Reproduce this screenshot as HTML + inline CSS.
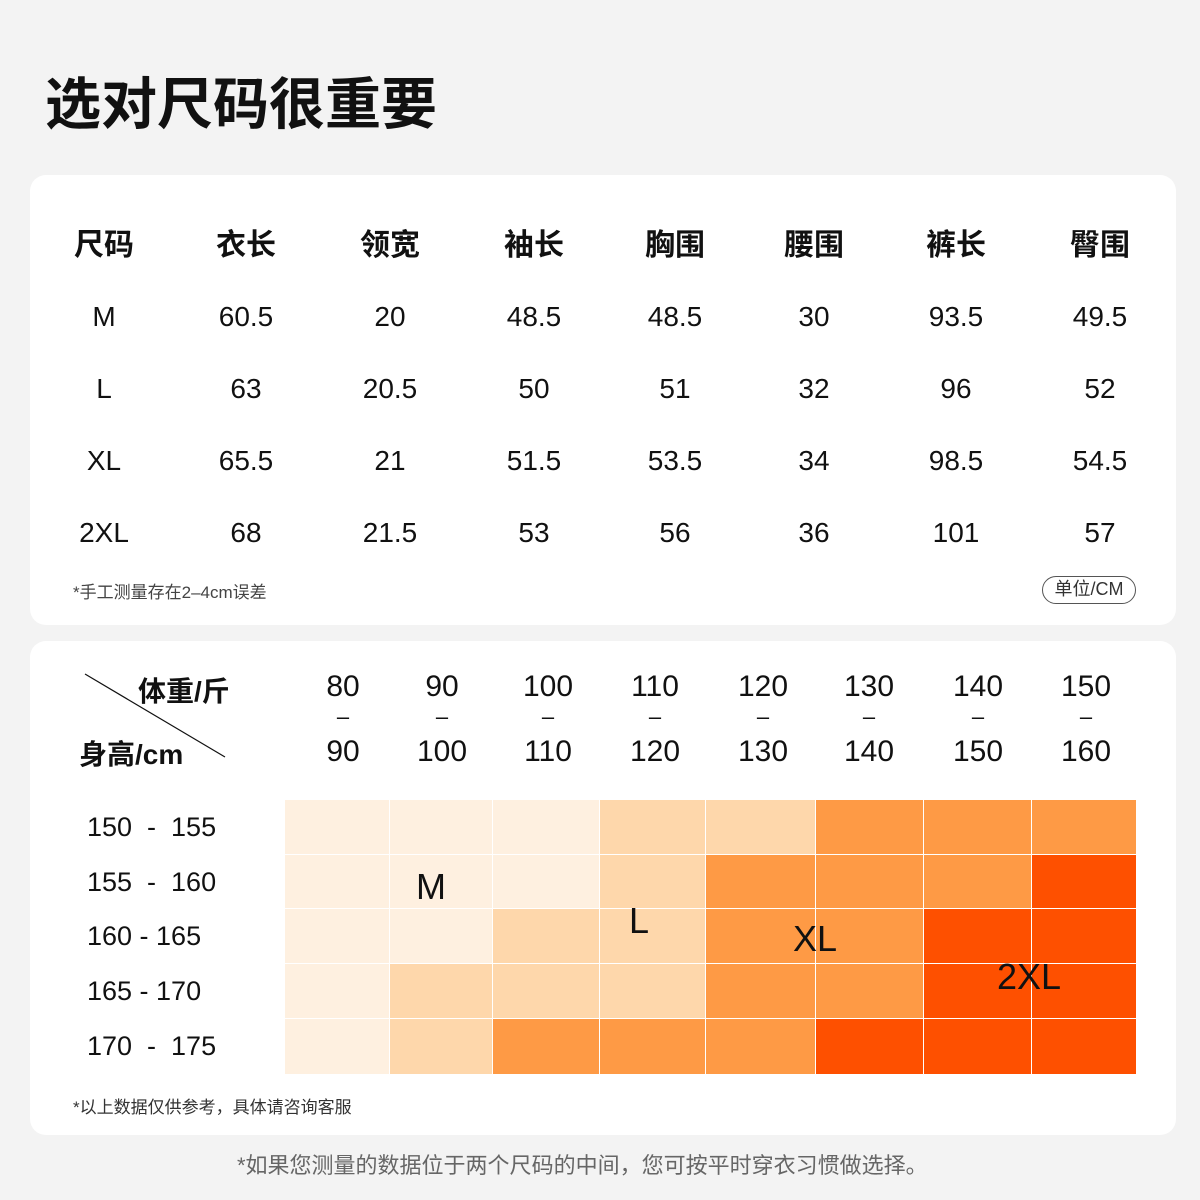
<!DOCTYPE html><html><head><meta charset="utf-8"><style>
*{margin:0;padding:0;box-sizing:border-box}
body{width:1200px;height:1200px;background:#f3f3f3;position:relative;font-family:"Liberation Sans","Noto Sans CJK SC",sans-serif;color:#111;overflow:hidden}
.a{position:absolute;white-space:nowrap}
.card{position:absolute;left:30px;width:1146px;background:#fff;border-radius:16px}
.c{transform:translateX(-50%);font-size:28px}
.h{font-weight:bold;font-size:30px}
.cell{position:absolute;border-right:1px solid #fff;border-bottom:1px solid #fff}
</style></head><body>
<div class="a" style="left:45px;top:60px;font-size:56px;font-weight:bold">选对尺码很重要</div>
<div class="card" style="top:175px;height:450px"></div>
<div class="card" style="top:641px;height:494px"></div>
<div id="t1"></div>
<div class="a" style="left:73px;top:578px;font-size:17px;color:#444">*手工测量存在2–4cm误差</div>
<div class="a" style="left:1042px;top:576px;width:94px;height:28px;border:1.5px solid #555;border-radius:14px;font-size:18px;color:#333;text-align:center;line-height:25px">单位/CM</div>
<svg class="a" style="left:0;top:0" width="1200" height="1200"><line x1="85" y1="674" x2="225" y2="757" stroke="#111" stroke-width="1.2"/></svg>
<div class="a" style="left:138px;top:670px;font-size:28px;font-weight:bold">体重/斤</div>
<div class="a" style="left:79px;top:733px;font-size:28px;font-weight:bold">身高/cm</div>
<div id="g"></div>
<div class="a" style="left:73px;top:1093px;font-size:17px;color:#333">*以上数据仅供参考，具体请咨询客服</div>
<div class="a" style="left:237px;top:1148px;font-size:22px;color:#666">*如果您测量的数据位于两个尺码的中间，您可按平时穿衣习惯做选择。</div>
<script>
var xs=[104,246,390,534,675,814,956,1100];
var rows=[["尺码","衣长","领宽","袖长","胸围","腰围","裤长","臀围"],["M","60.5","20","48.5","48.5","30","93.5","49.5"],["L","63","20.5","50","51","32","96","52"],["XL","65.5","21","51.5","53.5","34","98.5","54.5"],["2XL","68","21.5","53","56","36","101","57"]];
var ys=[220,301,373,445,517],h='';
rows.forEach(function(r,i){r.forEach(function(t,j){h+='<div class="a c'+(i==0?' h':'')+'" style="left:'+xs[j]+'px;top:'+ys[i]+'px">'+t+'</div>'})});
var wx=[343,442,548,655,763,869,978,1086],w1=["80","90","100","110","120","130","140","150"],w2=["90","100","110","120","130","140","150","160"];
wx.forEach(function(x,j){h+='<div class="a c" style="font-size:30px;left:'+x+'px;top:670px">'+w1[j]+'</div><div class="a c" style="font-size:22px;left:'+x+'px;top:704px">–</div><div class="a c" style="font-size:30px;left:'+x+'px;top:735px">'+w2[j]+'</div>'});
document.getElementById('t1').innerHTML=h;
var bx=[285,390,493,600,706,816,924,1032,1137],by=[800,855,909,964,1019,1075];
var C=["#fef0e0","#fed7ab","#fe9a45","#fe5000"];
var m=[[0,0,0,1,1,2,2,2],[0,0,0,1,2,2,2,3],[0,0,1,1,2,2,3,3],[0,1,1,1,2,2,3,3],[0,1,2,2,2,3,3,3]];
var lab=["150&nbsp; -&nbsp; 155","155&nbsp; -&nbsp; 160","160&nbsp;- 165","165&nbsp;- 170","170&nbsp; -&nbsp; 175"];
var g='';
for(var r=0;r<5;r++){g+='<div class="a" style="left:87px;top:'+(by[r]+12)+'px;font-size:27px">'+lab[r]+'</div>';
for(var c=0;c<8;c++)g+='<div class="cell" style="left:'+bx[c]+'px;top:'+by[r]+'px;width:'+(bx[c+1]-bx[c])+'px;height:'+(by[r+1]-by[r])+'px;background:'+C[m[r][c]]+'"></div>';}
g+='<div class="a" style="left:416px;top:866px;font-size:36px">M</div><div class="a" style="left:629px;top:900px;font-size:36px">L</div><div class="a" style="left:793px;top:918px;font-size:36px">XL</div><div class="a" style="left:997px;top:956px;font-size:36px">2XL</div>';
document.getElementById('g').innerHTML=g;
</script></body></html>
